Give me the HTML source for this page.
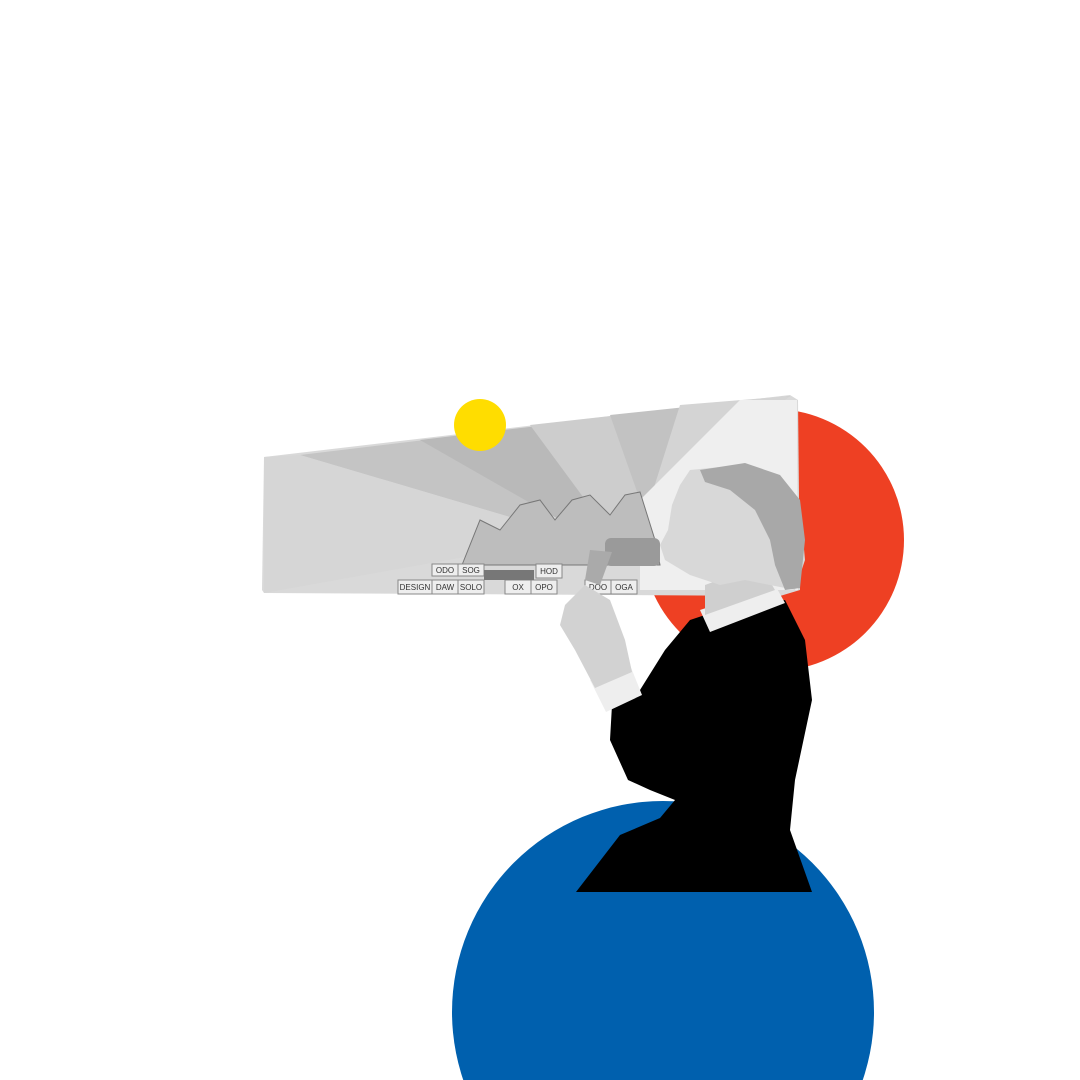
<!DOCTYPE html>
<html><head><meta charset="utf-8"><style>
html,body{margin:0;padding:0;background:#fff;width:1080px;height:1080px;overflow:hidden}
svg{display:block}
</style></head><body>
<svg width="1080" height="1080" viewBox="0 0 1080 1080" xmlns="http://www.w3.org/2000/svg">
<rect width="1080" height="1080" fill="#fff"/>
<!-- red circle -->
<circle cx="773" cy="540" r="131" fill="#EE4023"/>
<!-- blue circle -->
<circle cx="663" cy="1012" r="211" fill="#0060AE"/>
<!-- grey trapezoid -->
<polygon points="264,457 790,395 798,400 800,590 780,596 264,593 262,590" fill="#d9d9d9"/>
<polygon points="300,455 790,396 520,520" fill="#c4c4c4"/>
<polygon points="420,440 790,396 560,520" fill="#b9b9b9"/>
<polygon points="530,425 790,396 600,520" fill="#cdcdcd"/>
<polygon points="610,415 790,396 640,500" fill="#c2c2c2"/>
<polygon points="680,405 790,396 650,500" fill="#d4d4d4"/>
<polygon points="740,400 797,400 798,590 640,590 640,500" fill="#efefef"/>
<polygon points="264,457 300,455 520,520 560,540 264,593" fill="#d6d6d6"/>
<!-- mountains -->
<polygon points="462,565 480,520 500,530 520,505 540,500 555,520 572,500 590,495 610,515 625,495 640,492 655,540 660,565" fill="#bdbdbd" stroke="#777" stroke-width="1"/>
<g fill="#eee" stroke="#888" stroke-width="1" font-family="Liberation Sans, sans-serif" font-size="8" text-anchor="middle">
<rect x="432" y="564" width="26" height="12"/><text x="445" y="573" fill="#333" stroke="none">ODO</text>
<rect x="458" y="564" width="26" height="12"/><text x="471" y="573" fill="#333" stroke="none">SOG</text>
<rect x="398" y="580" width="34" height="14"/><text x="415" y="590" fill="#333" stroke="none">DESIGN</text>
<rect x="432" y="580" width="26" height="14"/><text x="445" y="590" fill="#333" stroke="none">DAW</text>
<rect x="458" y="580" width="26" height="14"/><text x="471" y="590" fill="#333" stroke="none">SOLO</text>
<rect x="536" y="564" width="26" height="14"/><text x="549" y="574" fill="#333" stroke="none">HOD</text>
<rect x="505" y="580" width="26" height="14"/><text x="518" y="590" fill="#333" stroke="none">OX</text>
<rect x="531" y="580" width="26" height="14"/><text x="544" y="590" fill="#333" stroke="none">OPO</text>
<rect x="585" y="580" width="26" height="14"/><text x="598" y="590" fill="#333" stroke="none">DOO</text>
<rect x="611" y="580" width="26" height="14"/><text x="624" y="590" fill="#333" stroke="none">OGA</text>
</g>
<rect x="484" y="570" width="50" height="10" fill="#777"/>
<!-- yellow sun -->
<circle cx="480" cy="425" r="26" fill="#FFDD00"/>
<!-- body -->
<path d="M705,615 L785,600 L805,640 L812,700 L795,780 L790,830 L812,892 L576,892 L620,835 L660,818 L675,800 L650,790 L628,780 L610,740 L612,705 L640,690 L665,650 L690,620 Z" fill="#000"/>
<!-- cuff -->
<path d="M590,680 L630,665 L642,695 L606,712 Z" fill="#eee"/>
<!-- collar -->
<path d="M700,610 L775,585 L785,603 L710,632 Z" fill="#eee"/>
<!-- neck -->
<path d="M705,585 L760,565 L775,590 L705,615 Z" fill="#cfcfcf"/>
<!-- hand -->
<path d="M565,605 L585,585 L610,600 L625,640 L632,672 L595,688 L575,650 L560,625 Z" fill="#d2d2d2"/>
<!-- device -->
<rect x="605" y="538" width="55" height="28" rx="6" fill="#9a9a9a"/>
<path d="M590,550 L612,552 L600,585 L585,580 Z" fill="#aaa"/>
<!-- head -->
<path d="M690,470 L740,465 L780,478 L800,505 L805,560 L795,590 L770,585 L745,580 L720,585 L705,580 L690,575 L665,560 L660,545 L668,530 L672,505 L680,485 Z" fill="#d8d8d8"/>
<!-- hair -->
<path d="M700,470 L745,463 L780,475 L800,500 L805,540 L800,588 L785,590 L775,565 L770,540 L755,510 L730,490 L705,482 Z" fill="#a8a8a8"/>
</svg>
</body></html>
